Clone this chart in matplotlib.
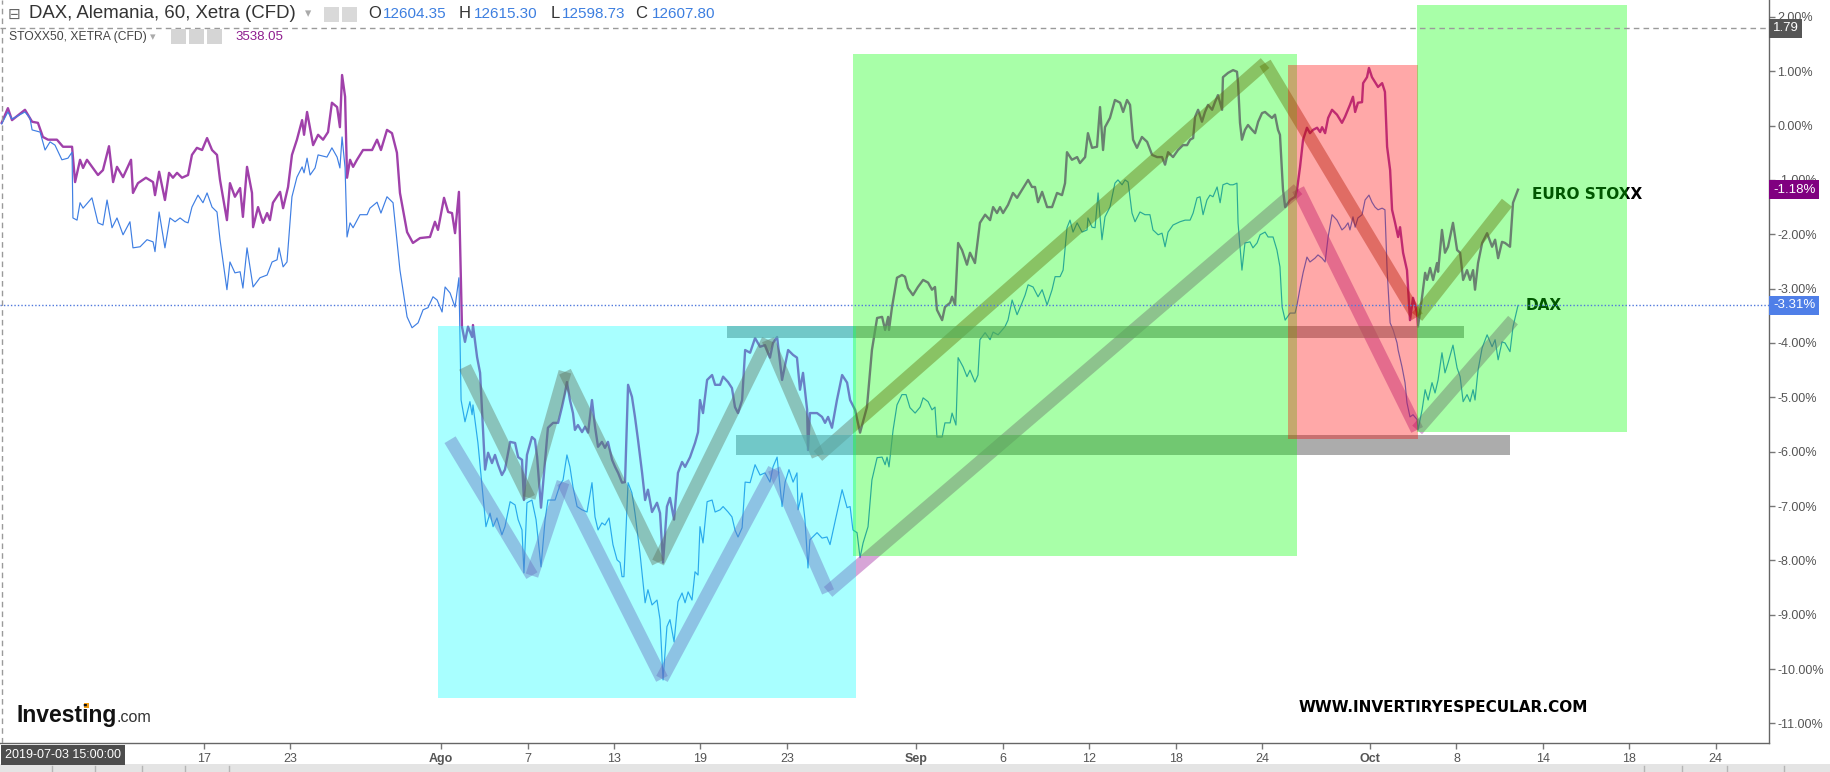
import matplotlib
matplotlib.use("Agg")
import matplotlib.pyplot as plt
from matplotlib.patches import Rectangle
from matplotlib.transforms import blended_transform_factory

plt.rcParams['font.family'] = ['Liberation Sans', 'DejaVu Sans']

# ---------------- data (x = trading-day index from 2019-07-03, y = % change) -------------
stoxx_t = [0.65,0.94,1.13,1.73,2.06,2.33,2.56,2.80,3.21,3.49,
           3.91,4.05,4.28,4.42,4.60,5.11,5.34,5.62,5.81,5.99,
           6.27,6.64,6.73,6.96,7.33,7.66,7.75,7.94,8.21,8.40,
           8.58,8.77,9.00,9.28,9.46,9.69,9.93,10.16,10.39,10.62,
           10.76,11.08,11.22,11.45,11.69,11.82,12.01,12.24,12.29,12.52,
           12.75,12.94,13.07,13.21,13.54,13.68,13.91,14.09,14.32,14.56,
           14.65,14.79,15.07,15.30,15.53,15.76,15.94,16.18,16.31,16.41,
           16.55,16.64,16.78,16.92,17.10,17.38,17.80,18.03,18.21,18.49,
           18.72,18.95,19.09,19.42,19.69,20.02,20.48,20.71,20.85,21.13,
           21.32,21.50,21.64,21.82,21.96,22.10,22.24,22.43,22.47,22.66,
           22.80,22.94,23.03,23.17,23.35,23.49,23.63,23.81,23.95,24.19,
           24.42,24.56,24.74,24.83,24.97,25.20,25.34,25.44,25.62,25.81,
           25.94,26.18,26.41,26.59,26.73,26.82,26.96,27.10,27.19,27.33,
           27.52,27.66,27.80,27.98,28.12,28.26,28.44,28.58,28.72,28.91,
           29.05,29.19,29.37,29.51,29.65,29.83,29.97,30.11,30.30,30.44,
           30.57,30.76,30.99,31.13,31.27,31.45,31.59,31.78,31.96,32.15,
           32.29,32.52,32.75,32.89,32.98,33.12,33.31,33.54,33.68,33.91,
           34.05,34.28,34.46,34.60,34.74,34.93,35.07,35.30,35.53,35.76,
           35.99,36.22,36.36,36.55,36.78,36.92,37.06,37.29,37.47,37.61,
           37.75,37.94,37.98,38.07,38.40,38.63,38.77,38.91,39.09,39.32,
           39.56,39.79,39.93,40.16,40.39,40.71,40.94,41.18,41.41,41.55,
           41.69,41.73,41.87,42.10,42.33,42.47,42.61,42.84,43.07,43.31,
           43.54,43.72,43.86,43.95,44.19,44.32,44.56,44.65,44.79,44.93,
           45.11,45.34,45.48,45.71,45.94,46.18,46.41,46.55,46.73,46.87,
           47.01,47.24,47.47,47.66,47.89,48.17,48.35,48.49,48.63,48.82,
           49.05,49.28,49.51,49.74,49.88,49.97,50.20,50.44,50.57,50.81,
           50.94,51.13,51.36,51.50,51.64,51.73,51.96,52.19,52.43,52.57,
           52.75,52.89,53.03,53.21,53.44,53.68,53.91,54.14,54.37,54.51,
           54.65,54.88,55.11,55.34,55.53,55.67,55.81,55.90,56.04,56.22,
           56.36,56.50,56.69,56.82,56.96,57.15,57.19,57.43,57.66,57.84,
           57.89,57.98,58.07,58.21,58.35,58.54,58.68,58.82,59.00,59.14,
           59.28,59.46,59.60,59.74,59.83,59.97,60.07,60.30,60.53,60.62,
           60.76,60.90,61.08,61.22,61.36,61.55,61.69,61.78,61.92,62.06,
           62.24,62.47,62.70,62.84,63.07,63.21,63.31,63.44,63.63,63.68,
           63.86,63.95,64.09,64.23,64.37,64.56,64.69,64.79,64.93,65.02,
           65.16,65.30,65.39,65.53,65.71,65.85,65.99,66.18,66.22,66.41,
           66.55,66.64,66.78,66.92,67.10,67.15,67.33,67.47,67.61,67.84,
           68.03,68.17,68.31,68.49,68.63,68.77,68.86,69.00,69.19,69.42,
           69.65,69.79,69.93,70.11,70.25,70.48,70.62,70.85]
stoxx_v = [0.05,0.32,0.10,0.29,0.07,0.05,-0.21,-0.26,-0.26,-0.39,
           -0.39,-1.04,-0.63,-0.78,-0.63,-0.91,-0.82,-0.38,-1.04,-0.76,
           -0.95,-0.63,-1.24,-1.06,-0.96,-1.04,-1.28,-0.85,-1.37,-0.87,
           -0.96,-0.87,-0.96,-0.91,-0.54,-0.41,-0.45,-0.23,-0.45,-0.54,
           -1.00,-1.74,-1.06,-1.31,-1.15,-1.68,-0.76,-1.24,-1.87,-1.50,
           -1.79,-1.61,-1.74,-1.42,-1.22,-1.52,-1.13,-0.54,-0.26,0.10,
           -0.17,0.25,-0.36,-0.17,-0.26,-0.12,0.42,0.34,-0.03,0.93,
           0.53,-0.96,-0.63,-0.76,-0.63,-0.45,-0.45,-0.26,-0.45,-0.08,
           -0.14,-0.50,-1.24,-1.96,-2.16,-2.07,-2.05,-1.77,-1.92,-1.33,
           -1.59,-1.61,-1.98,-1.22,-3.70,-3.98,-3.70,-3.89,-3.67,-4.26,
           -4.55,-5.65,-6.33,-6.02,-6.21,-6.06,-6.24,-6.43,-6.33,-5.82,
           -5.84,-6.10,-6.15,-6.89,-6.06,-5.73,-5.78,-6.10,-7.03,-6.15,
           -5.56,-5.47,-5.47,-5.18,-4.92,-4.72,-5.05,-5.29,-5.60,-5.51,
           -5.64,-5.54,-5.65,-5.05,-5.54,-5.91,-5.82,-5.93,-5.82,-6.15,
           -6.28,-6.39,-6.57,-6.56,-4.77,-4.99,-5.36,-5.78,-6.39,-6.89,
           -6.70,-7.11,-6.94,-7.13,-8.04,-7.01,-6.85,-7.25,-6.39,-6.19,
           -6.28,-6.10,-5.84,-5.64,-5.05,-5.29,-4.68,-4.59,-4.77,-4.77,
           -4.62,-4.72,-4.83,-5.18,-5.29,-5.05,-4.13,-4.18,-3.91,-4.07,
           -4.04,-4.27,-4.00,-3.89,-4.68,-4.40,-4.13,-4.22,-4.27,-4.86,
           -4.55,-5.23,-5.97,-5.29,-5.29,-5.36,-5.47,-5.36,-5.56,-5.05,
           -4.59,-4.73,-5.05,-5.23,-5.65,-5.18,-4.13,-3.54,-3.52,-3.76,
           -3.52,-3.76,-3.34,-2.80,-2.75,-2.78,-2.99,-3.12,-2.97,-2.84,
           -2.89,-3.02,-2.97,-3.39,-3.58,-3.34,-3.26,-3.15,-3.30,-2.16,
           -2.29,-2.56,-2.34,-2.53,-1.79,-1.64,-1.74,-1.50,-1.61,-1.50,
           -1.61,-1.46,-1.24,-1.33,-1.18,-1.00,-1.13,-1.13,-1.41,-1.22,
           -1.50,-1.50,-1.24,-1.28,-1.06,-0.49,-0.63,-0.58,-0.69,-0.58,
           -0.14,-0.41,-0.39,0.34,-0.45,-0.03,0.14,0.47,0.42,0.25,
           0.47,0.38,-0.26,-0.41,-0.21,-0.30,-0.54,-0.58,-0.58,-0.72,
           -0.49,-0.58,-0.45,-0.36,-0.36,-0.26,-0.23,0.16,0.29,0.07,
           0.25,0.38,0.29,0.43,0.56,0.29,0.89,0.97,1.02,0.99,
           0.78,0.05,-0.26,-0.08,0.01,-0.08,-0.14,0.07,0.23,0.25,
           0.20,0.14,0.20,-0.08,-0.17,-1.18,-1.50,-1.37,-1.31,-1.18,
           -0.76,-0.26,-0.04,-0.14,-0.08,-0.04,-0.12,-0.03,-0.14,0.14,
           0.29,0.20,0.05,0.16,0.38,0.53,0.25,0.42,0.43,0.78,
           0.89,1.06,0.89,0.80,0.71,0.78,0.62,-0.39,-0.82,-1.55,
           -1.79,-2.05,-1.87,-2.34,-2.66,-3.58,-3.17,-3.45,-3.70,-3.15,
           -2.71,-2.84,-2.62,-2.84,-2.53,-2.69,-1.92,-2.34,-2.23,-1.79,
           -2.29,-2.34,-2.84,-2.66,-2.84,-2.66,-3.02,-2.53,-2.16,-1.98,
           -2.23,-2.10,-2.44,-2.14,-2.16,-2.23,-1.42,-1.18]

dax_t = [0.65,0.94,1.13,1.73,1.96,2.06,2.43,2.66,2.89,3.12,
         3.44,3.72,3.91,3.95,4.14,4.28,4.42,4.83,5.11,5.34,
         5.53,5.76,5.99,6.27,6.59,6.73,7.06,7.38,7.66,7.75,
         7.94,8.21,8.44,8.68,8.91,9.14,9.28,9.46,9.74,9.97,
         10.16,10.39,10.62,10.76,11.08,11.22,11.45,11.69,11.82,12.01,
         12.29,12.61,12.94,13.17,13.40,13.49,13.68,13.86,14.09,14.32,
         14.56,14.65,14.79,14.93,15.16,15.30,15.71,15.94,16.18,16.31,
         16.41,16.55,16.64,16.78,16.92,17.24,17.57,17.70,18.03,18.21,
         18.49,18.77,19.09,19.42,19.65,19.93,20.16,20.39,20.62,20.81,
         21.04,21.18,21.41,21.64,21.82,21.92,22.10,22.33,22.43,22.47,
         22.70,22.94,23.07,23.26,23.40,23.58,23.81,23.95,24.19,24.42,
         24.56,24.74,24.83,24.97,25.20,25.39,25.62,25.81,25.94,26.27,
         26.50,26.64,26.82,26.96,27.10,27.29,27.52,27.75,27.98,28.12,
         28.26,28.44,28.58,28.77,28.95,29.14,29.28,29.37,29.46,29.65,
         29.83,29.97,30.20,30.44,30.57,30.76,30.99,31.13,31.27,31.45,
         31.59,31.78,31.96,32.15,32.29,32.43,32.61,32.75,32.89,32.98,
         33.12,33.31,33.54,33.68,33.91,34.05,34.28,34.46,34.60,34.74,
         34.93,35.07,35.30,35.53,35.76,35.99,36.22,36.36,36.55,36.78,
         36.92,37.10,37.29,37.47,37.52,37.70,37.84,37.98,38.07,38.40,
         38.63,38.86,39.00,39.23,39.56,39.79,39.93,40.06,40.25,40.39,
         40.53,40.76,40.94,41.18,41.41,41.55,41.64,41.73,41.92,42.10,
         42.33,42.52,42.70,42.94,43.17,43.31,43.54,43.72,43.86,43.95,
         44.19,44.32,44.56,44.65,44.83,44.93,45.16,45.34,45.48,45.71,
         45.85,45.94,46.18,46.41,46.55,46.78,47.10,47.24,47.43,47.66,
         47.89,48.03,48.17,48.40,48.63,48.82,49.05,49.28,49.42,49.65,
         49.79,49.97,50.11,50.25,50.44,50.67,50.90,50.94,51.13,51.27,
         51.41,51.59,51.73,51.96,52.19,52.33,52.52,52.66,52.80,52.98,
         53.12,53.35,53.58,53.81,53.95,54.19,54.37,54.51,54.65,54.88,
         55.20,55.44,55.67,55.81,55.99,56.13,56.27,56.45,56.59,56.73,
         56.92,57.06,57.19,57.38,57.52,57.66,57.84,57.89,58.07,58.21,
         58.44,58.58,58.77,58.91,59.14,59.28,59.51,59.69,59.83,59.93,
         60.07,60.30,60.53,60.62,60.76,60.90,61.08,61.22,61.45,61.59,
         61.78,61.92,62.06,62.24,62.47,62.70,62.84,62.98,63.07,63.21,
         63.31,63.44,63.63,63.77,63.95,64.09,64.23,64.37,64.56,64.69,
         64.79,64.93,65.07,65.25,65.30,65.48,65.62,65.71,65.85,65.99,
         66.18,66.22,66.41,66.55,66.69,66.87,67.01,67.15,67.33,67.47,
         67.61,67.84,68.03,68.17,68.31,68.49,68.63,68.77,68.86,69.00,
         69.19,69.42,69.65,69.79,69.93,70.11,70.25,70.48,70.62,70.85]
dax_v = [0.03,0.25,0.12,0.25,0.14,-0.08,-0.12,-0.45,-0.30,-0.36,
         -0.63,-0.60,-0.49,-1.70,-1.74,-1.42,-1.52,-1.33,-1.79,-1.83,
         -1.37,-1.88,-1.70,-2.01,-1.77,-2.25,-2.23,-2.10,-2.14,-2.32,
         -1.59,-2.25,-1.70,-1.77,-1.70,-1.77,-1.79,-1.50,-1.28,-1.42,
         -1.24,-1.50,-1.59,-2.10,-3.02,-2.51,-2.71,-2.69,-2.99,-2.25,
         -2.97,-2.80,-2.75,-2.51,-2.47,-2.25,-2.60,-2.51,-1.31,-0.95,
         -0.76,-0.87,-0.60,-0.91,-0.78,-0.54,-0.58,-0.41,-0.58,-0.78,
         -0.21,-0.78,-2.05,-1.79,-1.88,-1.64,-1.64,-1.52,-1.41,-1.61,
         -1.31,-1.42,-2.66,-3.52,-3.72,-3.63,-3.39,-3.35,-3.15,-3.21,
         -3.43,-2.97,-3.08,-3.34,-2.80,-5.05,-5.45,-5.08,-5.32,-5.14,
         -5.84,-6.83,-7.38,-7.13,-7.38,-7.22,-7.53,-7.38,-6.92,-6.98,
         -7.25,-7.44,-8.23,-6.94,-6.89,-7.25,-8.12,-7.25,-6.89,-6.89,
         -6.61,-6.52,-6.06,-6.28,-6.65,-7.01,-7.07,-7.11,-6.57,-7.20,
         -7.44,-7.31,-7.35,-7.22,-7.71,-7.99,-8.04,-8.30,-8.30,-6.57,
         -6.76,-7.13,-7.86,-8.78,-8.54,-8.82,-8.73,-9.09,-10.20,-9.22,
         -9.09,-9.50,-8.76,-8.60,-8.78,-8.58,-8.73,-8.21,-8.27,-7.38,
         -7.68,-6.92,-6.89,-7.11,-7.07,-7.01,-7.11,-7.20,-7.44,-7.57,
         -7.40,-6.56,-6.57,-6.24,-6.43,-6.39,-6.56,-6.28,-6.10,-7.01,
         -6.56,-6.33,-6.56,-6.39,-7.07,-6.76,-7.25,-8.14,-7.62,-7.49,
         -7.59,-7.57,-7.71,-7.29,-6.70,-7.03,-7.01,-7.44,-7.49,-7.95,
         -7.68,-7.38,-6.52,-6.11,-6.10,-6.24,-6.10,-6.28,-5.60,-5.14,
         -4.95,-4.95,-5.19,-5.29,-5.18,-5.01,-5.08,-5.23,-5.18,-5.73,
         -5.73,-5.47,-5.47,-5.29,-5.51,-4.27,-4.44,-4.62,-4.50,-4.72,
         -4.59,-3.94,-3.81,-3.94,-3.80,-3.85,-3.70,-3.58,-3.21,-3.48,
         -3.26,-3.12,-2.93,-2.97,-3.15,-3.02,-3.30,-3.02,-2.78,-2.78,
         -2.66,-1.88,-1.74,-1.96,-1.79,-1.96,-1.92,-1.70,-1.87,-1.88,
         -1.24,-2.10,-1.68,-1.50,-1.06,-1.00,-1.09,-1.00,-1.04,-1.61,
         -1.77,-1.59,-1.64,-1.64,-1.92,-2.01,-1.98,-2.23,-1.96,-1.83,
         -1.77,-1.74,-1.74,-1.61,-1.33,-1.31,-1.64,-1.37,-1.28,-1.31,
         -1.13,-1.42,-1.09,-1.06,-1.09,-1.09,-1.06,-1.79,-2.66,-2.16,
         -2.14,-2.25,-2.16,-2.01,-1.96,-2.05,-2.05,-2.29,-2.60,-3.34,
         -3.58,-3.45,-3.45,-3.30,-2.99,-2.71,-2.42,-2.51,-2.44,-2.38,
         -2.44,-2.51,-2.05,-1.64,-1.74,-1.92,-1.87,-1.79,-1.92,-1.68,
         -1.87,-1.70,-1.64,-1.37,-1.28,-1.41,-1.50,-1.55,-1.52,-1.55,
         -2.66,-3.63,-3.76,-4.00,-4.13,-4.44,-4.73,-5.10,-5.36,-5.32,
         -5.41,-5.60,-5.23,-4.86,-5.05,-4.73,-4.92,-4.68,-4.18,-4.55,
         -4.37,-4.04,-4.46,-4.62,-5.08,-4.95,-5.08,-4.86,-5.05,-4.50,
         -4.09,-3.85,-4.07,-3.94,-4.31,-3.98,-4.00,-4.16,-3.70,-3.31]

assert len(stoxx_t) == len(stoxx_v), (len(stoxx_t), len(stoxx_v))
assert len(dax_t) == len(dax_v), (len(dax_t), len(dax_v))

# x tick labels (trading-day positions)
tick_pos = [10, 14, 21, 25, 29, 33, 37, 43, 47, 51, 55, 59, 64, 68, 72, 76, 80]
tick_lab = ['17', '23', 'Ago', '7', '13', '19', '23', 'Sep', '6', '12', '18', '24',
            'Oct', '8', '14', '18', '24']
month_labels = {'Ago', 'Sep', 'Oct'}
ytick_vals = list(range(2, -12, -1))

# annotation drawings (trading-day, %)
upper_path_t = [22.10, 25.07, 26.73, 31.04, 36.13, 38.44, 59.14, 66.18, 70.34]
upper_path_v = [-4.44, -6.85, -4.53, -8.04, -3.94, -6.08, 1.15, -3.52, -1.42]
lower_path_t = [21.41, 25.20, 26.64, 31.22, 36.41, 38.91, 60.67, 66.18, 70.62]
lower_path_v = [-5.78, -8.28, -6.56, -10.18, -6.32, -8.58, -1.17, -5.60, -3.58]
bar_upper = (34.23, 68.35, -3.80)
bar_lower = (34.65, 70.48, -5.87)
box_cyan = (20.85, 40.20, -10.53, -3.69)
box_green1 = (40.06, 60.62, -7.92, 1.32)
box_red = (60.20, 66.22, -5.76, 1.11)
box_green2 = (66.18, 75.90, -5.64, 2.22)
last_stoxx = -1.18
last_dax = -3.31
cursor_value = 1.79

# ---------------- figure ----------------
W, H = 1830, 772
fig = plt.figure(figsize=(W / 100, H / 100), dpi=100)
fig.patch.set_facecolor('white')
ax = fig.add_axes([0, 29 / H, 1769 / W, 743 / H])
ax.set_facecolor('white')
ax.set_xlim(0.574, 82.47)
ax.set_ylim(-11.36, 2.31)

# series
ax.plot(stoxx_t, stoxx_v, color='#a041aa', lw=1.7, zorder=2, solid_joinstyle='round')
ax.plot(dax_t, dax_v, color='#3f7fe3', lw=0.85, zorder=2.1)

# hand-drawn strokes
def stroke_path(ts, vs, color, width_px, alpha):
    for i in range(len(ts) - 1):
        ax.plot(ts[i:i + 2], vs[i:i + 2], color=color, alpha=alpha,
                lw=width_px * 0.72, solid_capstyle='butt', zorder=3)

stroke_path(upper_path_t, upper_path_v, '#8b2000', 13, 0.4)
stroke_path(lower_path_t, lower_path_v, '#9c1f9c', 13, 0.4)
for (t0, t1, v), wpx in ((bar_upper, 12), (bar_lower, 20)):
    ax.plot([t0, t1], [v, v], color='#808080', alpha=0.65, lw=wpx * 0.72,
            solid_capstyle='butt', zorder=3)

# labels under the green overlay
ax.text(71.5, -1.27, 'EURO STOXX', fontsize=11, fontweight='bold', family='DejaVu Sans',
        color='black', va='center', ha='left', zorder=4)
ax.text(71.18, last_dax, 'DAX', fontsize=11, fontweight='bold', family='DejaVu Sans',
        color='black', va='center', ha='left', zorder=4)

# translucent boxes
for (t0, t1, v0, v1), c in ((box_cyan, '#00ffff'), (box_green1, '#00ff00'),
                            (box_red, '#ff0000'), (box_green2, '#00ff00')):
    ax.add_patch(Rectangle((t0, v0), t1 - t0, v1 - v0, facecolor=c, alpha=0.34,
                           edgecolor='none', zorder=5))

# reference lines
ax.axhline(last_dax, color='#4f78dc', lw=1, ls=(0, (1, 1.5)), zorder=6)
ax.axhline(cursor_value, color='#9a9a9a', lw=1, ls=(0, (4, 3)), zorder=6)
ax.axvline(0.67, color='#9a9a9a', lw=1, ls=(0, (4, 3)), zorder=6)

# axes styling
for s in ('left', 'top'):
    ax.spines[s].set_visible(False)
for s in ('right', 'bottom'):
    ax.spines[s].set_color('#666666')
    ax.spines[s].set_linewidth(1)
ax.yaxis.tick_right()
ax.set_yticks(ytick_vals)
ax.set_yticklabels([f"{v:.2f}%" for v in ytick_vals])
ax.tick_params(axis='y', direction='out', length=4, width=1, color='#777777',
               labelcolor='#555555', labelsize=9, pad=2)
ax.set_xticks(tick_pos)
ax.set_xticklabels(tick_lab)
ax.tick_params(axis='x', direction='out', length=4, width=1, color='#777777',
               labelcolor='#555555', labelsize=9, pad=3)
for lab in ax.get_xticklabels():
    if lab.get_text() in month_labels:
        lab.set_fontweight('bold')

# price tags on the right axis
tr = blended_transform_factory(ax.transAxes, ax.transData)
for val, txt, c in ((cursor_value, f"{cursor_value:.2f}", '#555555'),
                    (last_stoxx, f"{last_stoxx:.2f}%", '#800080'),
                    (last_dax, f"{last_dax:.2f}%", '#4f7fe8')):
    ax.text(1.0022, val, txt, transform=tr, ha='left', va='center', color='white',
            fontsize=9.5, zorder=10, clip_on=False,
            bbox=dict(boxstyle='square,pad=0.28', fc=c, ec='none'))

# ---------------- chrome (header, footer, logos) ----------------
def fx(x):
    return x / W

def fy(y):
    return 1 - y / H

# bottom toolbar strip
fig.add_artist(Rectangle((0, 0), 1, 8 / H, transform=fig.transFigure,
                         fc='#e4e4e4', ec='none', zorder=0))
for xs in (52, 95, 142, 185, 229, 1644, 1682, 1727, 1784):
    fig.add_artist(plt.Line2D([fx(xs), fx(xs)], [0, 6 / H], color='#b5b5b5', lw=1))

fig.text(fx(5), fy(755), '2019-07-03 15:00:00', fontsize=9, color='white',
         va='center', ha='left',
         bbox=dict(boxstyle='square,pad=0.3', fc='#4d4d4d', ec='none'))

# header line 1
fig.text(fx(8), fy(14), '\u229f', fontsize=11, color='#666666', va='center',
         family='DejaVu Sans')
fig.text(fx(29), fy(14), 'DAX, Alemania, 60, Xetra (CFD)', fontsize=13.4,
         color='#333333', va='center')
fig.text(fx(305), fy(14), '\u25be', fontsize=9, color='#aaaaaa', va='center',
         family='DejaVu Sans')
for x0 in (324, 342):
    fig.add_artist(Rectangle((fx(x0), fy(22)), 15 / W, 15 / H, transform=fig.transFigure,
                             fc='#d9d9d9', ec='none'))
hdr = (('O', 368, '12604.35', 383), ('H', 459, '12615.30', 474),
       ('L', 551, '12598.73', 562), ('C', 635, '12607.80', 652))
for letter, lx, num, nx in hdr:
    fig.text(fx(lx), fy(14), letter, fontsize=12, color='#333333', va='center')
    fig.text(fx(nx), fy(14), num, fontsize=11, color='#3d7fe0', va='center')

# header line 2
fig.text(fx(9), fy(37), 'STOXX50, XETRA (CFD)', fontsize=8.7, color='#444444',
         va='center')
fig.text(fx(150), fy(37), '\u25be', fontsize=8, color='#aaaaaa', va='center',
         family='DejaVu Sans')
for x0 in (171, 189, 207):
    fig.add_artist(Rectangle((fx(x0), fy(44)), 15 / W, 15 / H, transform=fig.transFigure,
                             fc='#d5d5d5', ec='none'))
fig.text(fx(235), fy(37), '3538.05', fontsize=9.5, color='#8e1c8e', va='center')

# Investing.com logo
fig.text(fx(16), fy(722), 'Investing', fontsize=16.5, fontweight='bold',
         color='#111111', va='baseline')
fig.text(fx(117), fy(722), '.com', fontsize=11.6, color='#333333', va='baseline')
fig.add_artist(Rectangle((fx(84), fy(708)), 5 / W, 5 / H, transform=fig.transFigure,
                         fc='#f39c12', ec='none'))

# website watermark
fig.text(fx(1299), fy(708), 'WWW.INVERTIRYESPECULAR.COM', fontsize=11,
         fontweight='bold', family='DejaVu Sans', color='black', va='center')

fig.savefig('out.png', dpi=100, facecolor='white')
